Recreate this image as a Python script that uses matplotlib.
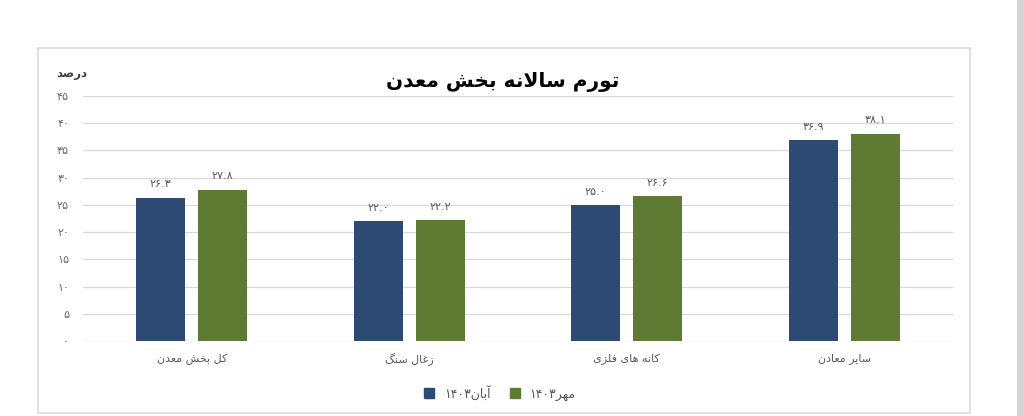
import re
import matplotlib
matplotlib.use("Agg")
import matplotlib.pyplot as plt
from matplotlib.patches import Patch, Rectangle

# data
categories = ["کل بخش معدن", "زغال سنگ", "کانه های فلزی", "سایر معادن"]
aban_1403 = [26.3, 22.0, 25.0, 36.9]
mehr_1403 = [27.8, 22.2, 26.6, 38.1]
series_names = ["آبان۱۴۰۳", "مهر۱۴۰۳"]
y_ticks = [0, 5, 10, 15, 20, 25, 30, 35, 40, 45]
title = "تورم سالانه بخش معدن"
y_unit = "درصد"

blue = "#2d4a74"
green = "#5f7a33"

# matplotlib has no arabic shaping, so pick presentation forms by hand
# (isolated, final, initial, medial); 2-tuples only join to the right
FORMS = {
    "ا": ("\uFE8D", "\uFE8E"), "آ": ("\uFE81", "\uFE82"),
    "د": ("\uFEA9", "\uFEAA"), "ذ": ("\uFEAB", "\uFEAC"),
    "ر": ("\uFEAD", "\uFEAE"), "ز": ("\uFEAF", "\uFEB0"),
    "ژ": ("\uFB8A", "\uFB8B"), "و": ("\uFEED", "\uFEEE"),
    "ب": ("\uFE8F", "\uFE90", "\uFE91", "\uFE92"),
    "پ": ("\uFB56", "\uFB57", "\uFB58", "\uFB59"),
    "ت": ("\uFE95", "\uFE96", "\uFE97", "\uFE98"),
    "ج": ("\uFE9D", "\uFE9E", "\uFE9F", "\uFEA0"),
    "خ": ("\uFEA5", "\uFEA6", "\uFEA7", "\uFEA8"),
    "س": ("\uFEB1", "\uFEB2", "\uFEB3", "\uFEB4"),
    "ش": ("\uFEB5", "\uFEB6", "\uFEB7", "\uFEB8"),
    "ص": ("\uFEB9", "\uFEBA", "\uFEBB", "\uFEBC"),
    "ع": ("\uFEC9", "\uFECA", "\uFECB", "\uFECC"),
    "غ": ("\uFECD", "\uFECE", "\uFECF", "\uFED0"),
    "ف": ("\uFED1", "\uFED2", "\uFED3", "\uFED4"),
    "ک": ("\uFB8E", "\uFB8F", "\uFB90", "\uFB91"),
    "گ": ("\uFB92", "\uFB93", "\uFB94", "\uFB95"),
    "ل": ("\uFEDD", "\uFEDE", "\uFEDF", "\uFEE0"),
    "م": ("\uFEE1", "\uFEE2", "\uFEE3", "\uFEE4"),
    "ن": ("\uFEE5", "\uFEE6", "\uFEE7", "\uFEE8"),
    "ه": ("\uFEE9", "\uFEEA", "\uFEEB", "\uFEEC"),
    "ی": ("\uFBFC", "\uFBFD", "\uFBFE", "\uFBFF"),
}


def shape(text):
    out = []
    i = 0
    while i < len(text):
        c = text[i]
        prev = text[i - 1] if i > 0 else ""
        nxt = text[i + 1] if i + 1 < len(text) else ""
        joins_prev = prev in FORMS and len(FORMS[prev]) == 4
        if c == "ل" and nxt == "ا":
            out.append("\uFEFC" if joins_prev else "\uFEFB")
            i += 2
            continue
        if c not in FORMS:
            out.append(c)
            i += 1
            continue
        f = FORMS[c]
        joins_next = len(f) == 4 and nxt in FORMS
        if joins_prev and joins_next:
            out.append(f[3])
        elif joins_next:
            out.append(f[2])
        elif joins_prev:
            out.append(f[1])
        else:
            out.append(f[0])
        i += 1
    return "".join(out)


def fa(text):
    # shape, then lay out right-to-left, keeping digit runs in order
    tokens = re.findall(r"[\u06F0-\u06F90-9.]+|[^\u06F0-\u06F90-9.]+", shape(text))
    return "".join(t if re.match(r"[\u06F0-\u06F90-9.]", t) else t[::-1]
                   for t in reversed(tokens))


def fa_num(v):
    return str(v).translate(str.maketrans("0123456789", "۰۱۲۳۴۵۶۷۸۹"))


plt.rcParams["font.family"] = ["DejaVu Sans"]

fig = plt.figure(figsize=(10.23, 4.16), dpi=100)
fig.patch.set_facecolor("white")

# chart frame and the page edge
fig.patches.append(Rectangle((38 / 1023, 3 / 416), 932 / 1023, 365 / 416,
                             transform=fig.transFigure, fill=False,
                             edgecolor="#dcdcdc", linewidth=1.2))
fig.patches.append(Rectangle((1017 / 1023, 0), 6 / 1023, 1,
                             transform=fig.transFigure, facecolor="#d4d4d4",
                             edgecolor="none"))

ax = fig.add_axes([83 / 1023, 75 / 416, 870 / 1023, 245 / 416])

x = list(range(len(categories)))
w = 0.225
gap = 0.06
off = (w + gap) / 2
b1 = ax.bar([i - off for i in x], aban_1403, width=w, color=blue, zorder=3)
b2 = ax.bar([i + off for i in x], mehr_1403, width=w, color=green, zorder=3)

for bars, vals in ((b1, aban_1403), (b2, mehr_1403)):
    for bar, v in zip(bars, vals):
        ax.annotate(fa_num(f"{v:.1f}"), (bar.get_x() + bar.get_width() / 2, v),
                    xytext=(0, 6), textcoords="offset points",
                    ha="center", va="bottom", fontsize=8, color="#595959")

ax.set_xlim(-0.5, len(categories) - 0.5)
ax.set_ylim(0, 45)
ax.set_yticks(y_ticks)
ax.set_yticklabels([fa_num(t) for t in y_ticks], fontsize=8, color="#6a6a6a")
ax.set_xticks(x)
ax.set_xticklabels([fa(c) for c in categories], fontsize=8, color="#595959")
ax.tick_params(axis="both", length=0)
ax.tick_params(axis="y", pad=10)
ax.tick_params(axis="x", pad=9)
ax.grid(axis="y", color="#d9d9d9", linewidth=0.9, zorder=0)
for s in ax.spines.values():
    s.set_visible(False)

fig.text(503 / 1023, 1 - 82 / 416, fa(title), ha="center", va="center",
         fontsize=14.5, fontweight="bold", color="black")
fig.text(72 / 1023, 1 - 74 / 416, fa(y_unit), ha="center", va="center",
         fontsize=8.5, fontweight="bold", color="#404040")

handles = [Patch(color=blue), Patch(color=green)]
fig.legend(handles, [fa(n) for n in series_names], loc="center",
           bbox_to_anchor=(500 / 1023, 1 - 393 / 416), ncol=2, frameon=False,
           fontsize=9, handlelength=0.8, handleheight=0.8, columnspacing=1.5,
           labelcolor="#595959")

fig.savefig("out.png", dpi=100)
